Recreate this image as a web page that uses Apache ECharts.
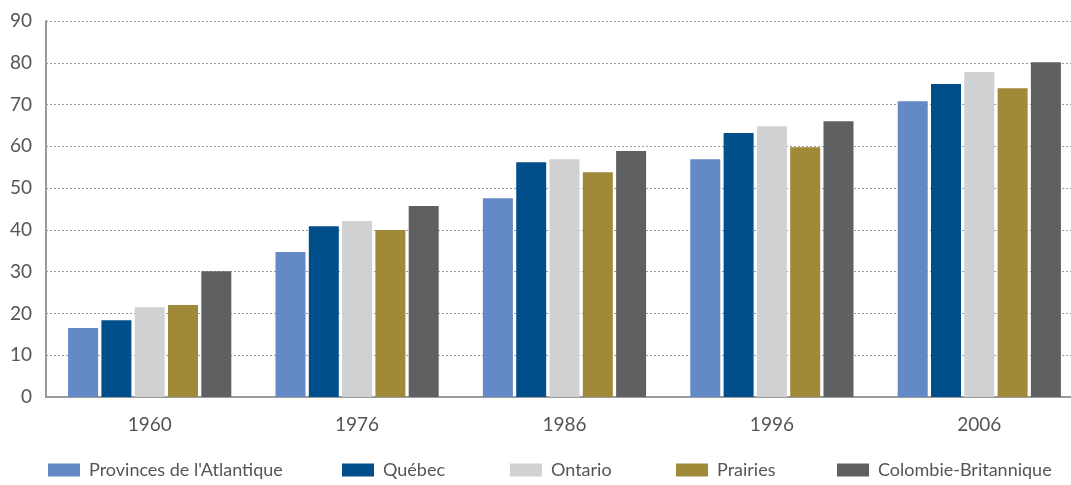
<!DOCTYPE html>
<html>
<head>
<meta charset="utf-8">
<script src="https://cdn.jsdelivr.net/npm/echarts@6/dist/echarts.min.js"></script>
<style>
  html, body { margin: 0; padding: 0; background: #fff; }
  #chart { width: 1071px; height: 485px; }
</style>
</head>
<body>
<div id="chart"></div>
<script>
// années (catégories)
const years = ['1960', '1976', '1986', '1996', '2006'];

// valeurs
const atlantique = [16.5, 34.7, 47.6, 56.9, 70.8];
const quebec = [18.4, 40.9, 56.2, 63.2, 74.9];
const ontario = [21.5, 42.1, 56.9, 64.8, 77.8];
const prairies = [22.0, 40.0, 53.8, 59.8, 73.9];
const colombie = [30.1, 45.7, 58.9, 66.0, 80.1];

const seriesNames = ["Provinces de l'Atlantique", 'Québec', 'Ontario', 'Prairies', 'Colombie-Britannique'];
const seriesData = [atlantique, quebec, ontario, prairies, colombie];
const colors = ['#6389c6', '#004f8a', '#d0d1d3', '#a08a3a', '#5f6062'];
// position horizontale de chaque entrée de légende
const legendLeft = [48, 342, 510, 676, 837];

const font = 'Lato, "Open Sans", sans-serif';

let chart = echarts.init(document.getElementById('chart'));

chart.setOption({
    animation: false,
    color: colors,
    grid: {
        left: 46,
        top: 21,
        right: -12,
        bottom: 88,
        outerBoundsMode: 'none',
        containLabel: false
    },
    legend: seriesNames.map(function (name, i) {
        return {
            top: 461,
            left: legendLeft[i],
            itemWidth: 32,
            itemHeight: 13,
            icon: 'rect',
            padding: 0,
            textStyle: { fontFamily: font, fontSize: 18, color: '#555', padding: [0, 0, 0, 4] },
            data: [name]
        };
    }),
    xAxis: {
        type: 'category',
        data: years,
        axisLine: { lineStyle: { color: '#9a9a9a', width: 2 } },
        axisTick: { show: false },
        axisLabel: { fontFamily: font, fontSize: 19, color: '#555', margin: 18 }
    },
    yAxis: {
        type: 'value',
        min: 0,
        max: 90,
        interval: 10,
        axisLine: { show: true, lineStyle: { color: '#9a9a9a', width: 2 } },
        axisTick: { show: false },
        axisLabel: { fontFamily: font, fontSize: 19, color: '#555', margin: 14 },
        splitLine: { lineStyle: { color: '#999', type: [2, 2], width: 1 } }
    },
    series: seriesNames.map(function (name, i) {
        return {
            name: name,
            type: 'bar',
            barWidth: 30,
            barGap: '11%',
            data: seriesData[i]
        };
    })
});
</script>
</body>
</html>
